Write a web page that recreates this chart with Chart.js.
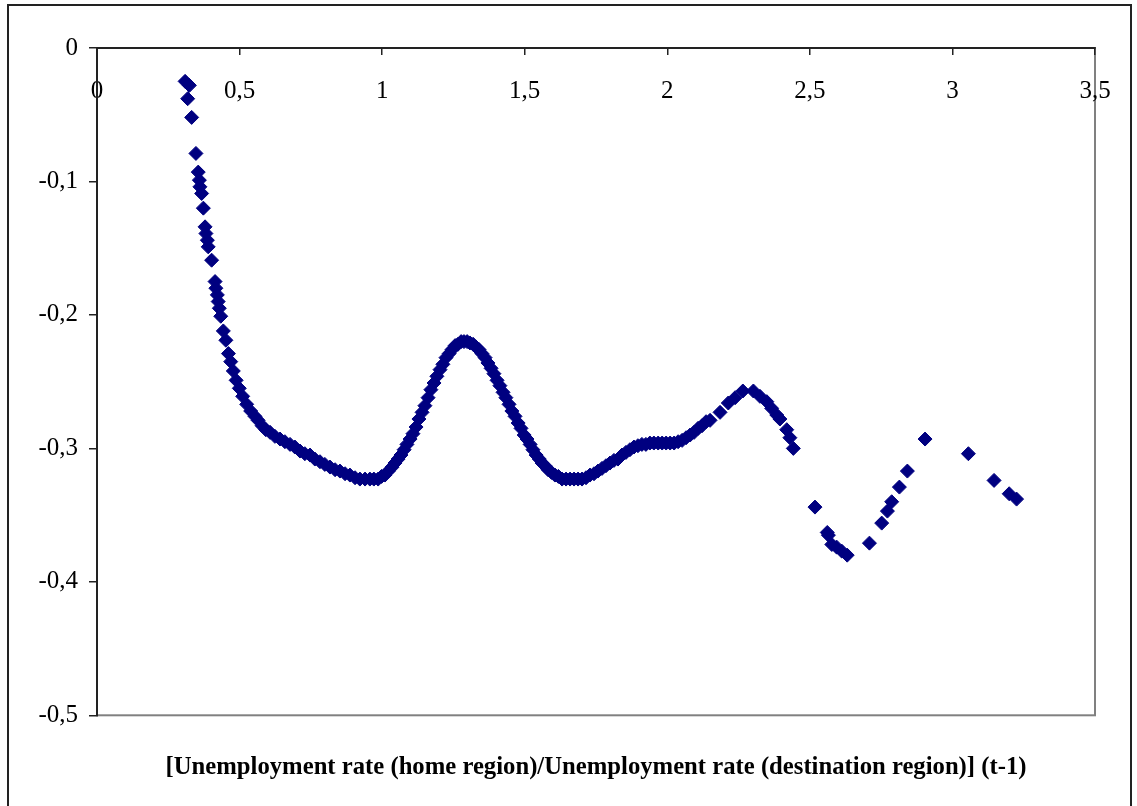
<!DOCTYPE html>
<html>
<head>
<meta charset="utf-8">
<title>Unemployment ratio scatter</title>
<script src="https://cdn.jsdelivr.net/npm/chart.js@4/dist/chart.umd.min.js"></script>
<style>
  html, body { margin: 0; padding: 0; background: #fff; }
  #wrap { position: relative; width: 1137px; height: 806px; }
</style>
</head>
<body>
<div id="wrap"><canvas id="chart"></canvas></div>
<script>
// Ratio of unemployment rates (t-1)
const ratioX = [
  0.309, 0.324, 0.318, 0.332, 0.347, 0.355, 0.359, 0.361, 0.367, 0.373,
  0.379, 0.382, 0.387, 0.390, 0.402, 0.414, 0.417, 0.422, 0.425, 0.429,
  0.434, 0.443, 0.452, 0.461, 0.469, 0.478, 0.488, 0.499, 0.511, 0.525,
  0.539, 0.554, 0.565, 0.579, 0.592, 0.607, 0.624, 0.642, 0.659, 0.677,
  0.694, 0.712, 0.729, 0.747, 0.764, 0.782, 0.799, 0.817, 0.835, 0.852,
  0.870, 0.887, 0.905, 0.922, 0.940, 0.957, 0.971, 0.986, 0.998, 1.010,
  1.022, 1.035, 1.045, 1.056, 1.066, 1.077, 1.087, 1.098, 1.108, 1.119,
  1.129, 1.140, 1.150, 1.161, 1.171, 1.182, 1.192, 1.203, 1.213, 1.224,
  1.235, 1.245, 1.256, 1.266, 1.277, 1.287, 1.298, 1.308, 1.319, 1.329,
  1.340, 1.350, 1.361, 1.371, 1.382, 1.392, 1.403, 1.413, 1.424, 1.434,
  1.445, 1.455, 1.466, 1.477, 1.487, 1.498, 1.508, 1.519, 1.529, 1.540,
  1.551, 1.561, 1.571, 1.582, 1.594, 1.606, 1.618, 1.631, 1.645, 1.659,
  1.673, 1.687, 1.701, 1.715, 1.729, 1.743, 1.757, 1.771, 1.785, 1.799,
  1.813, 1.827, 1.841, 1.855, 1.869, 1.883, 1.897, 1.911, 1.925, 1.939,
  1.953, 1.968, 1.982, 1.996, 2.010, 2.024, 2.038, 2.052, 2.066, 2.080,
  2.094, 2.108, 2.122, 2.136, 2.150, 2.185, 2.214, 2.238, 2.265, 2.302,
  2.325, 2.349, 2.366, 2.384, 2.395, 2.419, 2.430, 2.442, 2.518, 2.561,
  2.565, 2.577, 2.594, 2.612, 2.631, 2.709, 2.752, 2.772, 2.787, 2.814,
  2.842, 2.904, 3.056, 3.146, 3.199, 3.225
];

// Estimated effect for each point above
const effectY = [
  -0.025, -0.028, -0.038, -0.052, -0.079, -0.093, -0.099, -0.104, -0.109, -0.120,
  -0.134, -0.139, -0.144, -0.149, -0.159, -0.175, -0.180, -0.185, -0.190, -0.195,
  -0.201, -0.212, -0.219, -0.229, -0.235, -0.242, -0.249, -0.255, -0.261, -0.267,
  -0.272, -0.276, -0.279, -0.283, -0.286, -0.288, -0.291, -0.293, -0.295, -0.297,
  -0.299, -0.302, -0.304, -0.305, -0.308, -0.310, -0.312, -0.314, -0.316, -0.317,
  -0.319, -0.320, -0.322, -0.323, -0.323, -0.323, -0.323, -0.323, -0.321, -0.320,
  -0.317, -0.314, -0.311, -0.308, -0.305, -0.301, -0.297, -0.293, -0.289, -0.284,
  -0.278, -0.273, -0.268, -0.262, -0.256, -0.251, -0.246, -0.241, -0.237, -0.232,
  -0.229, -0.226, -0.223, -0.222, -0.220, -0.220, -0.220, -0.221, -0.222, -0.224,
  -0.226, -0.229, -0.232, -0.236, -0.240, -0.244, -0.249, -0.253, -0.258, -0.262,
  -0.267, -0.272, -0.276, -0.281, -0.285, -0.290, -0.293, -0.297, -0.301, -0.305,
  -0.308, -0.311, -0.313, -0.316, -0.318, -0.320, -0.321, -0.323, -0.323, -0.323,
  -0.323, -0.323, -0.323, -0.322, -0.320, -0.319, -0.317, -0.315, -0.313, -0.311,
  -0.309, -0.308, -0.305, -0.303, -0.301, -0.299, -0.298, -0.297, -0.297, -0.296,
  -0.296, -0.296, -0.296, -0.296, -0.296, -0.296, -0.295, -0.294, -0.292, -0.290,
  -0.288, -0.285, -0.283, -0.280, -0.279, -0.273, -0.266, -0.262, -0.257, -0.257,
  -0.261, -0.265, -0.270, -0.275, -0.278, -0.286, -0.292, -0.300, -0.344, -0.363,
  -0.365, -0.372, -0.374, -0.377, -0.380, -0.371, -0.356, -0.347, -0.340, -0.329,
  -0.317, -0.293, -0.304, -0.324, -0.334, -0.338
];

// Axis ticks
const xTickValues = [0, 0.5, 1, 1.5, 2, 2.5, 3, 3.5];
const xTickLabels = ['0', '0,5', '1', '1,5', '2', '2,5', '3', '3,5'];
const yTickValues = [-0.5, -0.4, -0.3, -0.2, -0.1, 0];
const yTickLabels = ['-0,5', '-0,4', '-0,3', '-0,2', '-0,1', '0'];

const axisTitle = '[Unemployment rate (home region)/Unemployment rate (destination region)] (t-1)';

const points = ratioX.map((x, i) => ({ x: x, y: effectY[i] }));

// Outer frame and grey plot-area border, drawn under the axes
const framePlugin = {
  id: 'frame',
  beforeDraw(chart) {
    const ctx = chart.ctx;
    const area = chart.chartArea;
    ctx.save();
    ctx.strokeStyle = '#222';
    ctx.lineWidth = 2;
    ctx.strokeRect(8, 5, 1123, 850);
    ctx.strokeStyle = '#808080';
    ctx.lineWidth = 2;
    ctx.strokeRect(area.left, area.top, area.right - area.left, area.bottom - area.top);
    ctx.restore();
  }
};

new Chart(document.getElementById('chart'), {
  type: 'scatter',
  data: {
    datasets: [{
      data: points,
      pointStyle: 'rectRot',
      pointRadius: 7,
      pointHoverRadius: 7,
      borderWidth: 1,
      backgroundColor: '#000080',
      borderColor: '#000080'
    }]
  },
  options: {
    responsive: true,
    maintainAspectRatio: false,
    devicePixelRatio: 1,
    animation: false,
    events: [],
    layout: {
      padding: { left: 0, top: 0, right: 42, bottom: 0 }
    },
    plugins: {
      legend: { display: false },
      tooltip: { enabled: false },
      title: {
        display: true,
        position: 'bottom',
        fullSize: false,
        text: axisTitle,
        color: '#000',
        font: { family: 'Liberation Serif', size: 24.7, weight: 'bold', lineHeight: 1 },
        padding: { top: 40, bottom: 26 }
      }
    },
    scales: {
      x: {
        type: 'linear',
        position: 'top',
        min: 0,
        max: 3.5,
        afterBuildTicks: (scale) => { scale.ticks = xTickValues.map(v => ({ value: v })); },
        afterFit: (scale) => {
          scale.height = 48;
          scale.paddingLeft = 0;
          scale.paddingRight = 0;
        },
        grid: { drawOnChartArea: false, drawTicks: true, tickLength: -7, color: '#222', lineWidth: 1.5 },
        border: { color: '#222', width: 2 },
        ticks: {
          mirror: true,
          padding: 31,
          maxRotation: 0,
          color: '#000',
          font: { family: 'Liberation Serif', size: 25, lineHeight: 1 },
          callback: (v, i) => xTickLabels[i]
        }
      },
      y: {
        type: 'linear',
        position: 'left',
        min: -0.5,
        max: 0,
        afterBuildTicks: (scale) => { scale.ticks = yTickValues.map(v => ({ value: v })); },
        afterFit: (scale) => {
          scale.width = 97;
          scale.paddingTop = 0;
          scale.paddingBottom = 0;
        },
        grid: { drawOnChartArea: false, drawTicks: true, tickLength: 8, color: '#222', lineWidth: 1.5 },
        border: { color: '#222', width: 2 },
        ticks: {
          padding: 11,
          color: '#000',
          font: { family: 'Liberation Serif', size: 25, lineHeight: 1 },
          callback: (v, i) => yTickLabels[i]
        }
      }
    }
  },
  plugins: [framePlugin]
});
</script>
</body>
</html>
